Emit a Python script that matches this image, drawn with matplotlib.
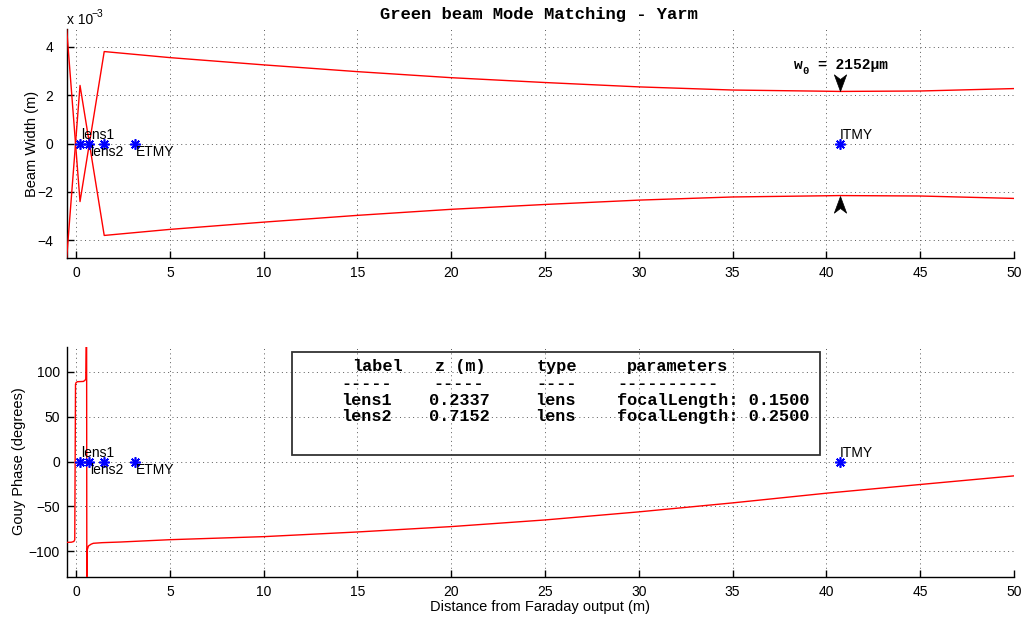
import matplotlib
matplotlib.use('Agg')
import matplotlib.pyplot as plt
from matplotlib.patches import Rectangle
from matplotlib.ticker import FuncFormatter
from matplotlib.path import Path
import numpy as np

# ---------------- data ----------------
# signed beam envelope (mm); the mirror branch is its negative
z_beam = [-0.5, 0.21, 1.5, 5, 10, 15, 20, 25, 30, 35, 40, 40.7, 45, 50]
w_beam_mm = [4.72, -2.40, 3.80, 3.55, 3.25, 2.97, 2.72, 2.52, 2.34, 2.21, 2.16, 2.152, 2.17, 2.27]

# Gouy phase (degrees)
z_gouy = [-0.5, -0.25, -0.12, -0.07, -0.05, -0.03, 0.0, 0.07, 0.39, 0.47, 0.52,
          0.56, 0.575, 0.60, 0.66, 0.80, 0.92, 1.4, 2.35,
          5, 10, 15, 20, 25, 30, 35, 40, 45, 50]
g_gouy = [-90, -89.8, -89, -87, 0, 86, 88, 89, 89.3, 90.5, 92,
          180, -180, -98, -94, -92, -91, -90.3, -89.6,
          -87, -83.6, -78.4, -72.4, -65, -56, -46, -35.2, -25.5, -15.9]

# optical components
comp_z = [0.2337, 0.7152, 1.5, 3.15, 40.7]
comp_names = ['lens1', 'lens2', '', 'ETMY', 'ITMY']
comp_above = [True, False, True, False, True]

# waist annotation
waist_z = 40.7
waist_w_um = 2152

# table
tbl_header = ['label', 'z (m)', 'type', 'parameters']
tbl_labels = ['lens1', 'lens2']
tbl_z = [0.2337, 0.7152]
tbl_type = ['lens', 'lens']
tbl_focal = [0.1500, 0.2500]

x_ticks = list(range(0, 51, 5))
y1_ticks_mm = [-4, -2, 0, 2, 4]
y2_ticks = [-100, -50, 0, 50, 100]

# ---------------- figure ----------------
W, H = 1024, 618
fig = plt.figure(figsize=(W / 100, H / 100), dpi=100)
SANS = 'Liberation Sans'
MONO = 'Liberation Mono'
plt.rcParams['font.family'] = SANS


def fx(px):
    return px / W


def fy(py):
    return 1 - py / H


ax1 = fig.add_axes([fx(66.7), fy(257.7), fx(1014) - fx(66.7), fy(29.3) - fy(257.7)])
ax2 = fig.add_axes([fx(66.7), fy(576.5), fx(1014) - fx(66.7), fy(346.7) - fy(576.5)])

w = np.array(w_beam_mm) * 1e-3
ax1.plot(z_beam, w, color='#ff0000', lw=1.0, zorder=3)
ax1.plot(z_beam, -w, color='#ff0000', lw=1.0, zorder=3)
ax2.plot(z_gouy, g_gouy, color='#ff0000', lw=1.0, zorder=3)

ax1.set_xlim(-0.5, 50)
ax1.set_ylim(-4.72e-3, 4.72e-3)
ax2.set_xlim(-0.5, 50)
ax2.set_ylim(-128, 128)

ax1.set_yticks([v * 1e-3 for v in y1_ticks_mm])
ax1.yaxis.set_major_formatter(
    FuncFormatter(lambda v, p: ('%d' % round(v * 1e3)).replace('-', '\u2212')))
ax2.set_yticks(y2_ticks)

for ax in (ax1, ax2):
    ax.set_xticks(x_ticks)
    for s in ('top', 'right'):
        ax.spines[s].set_visible(False)
    for s in ('left', 'bottom'):
        ax.spines[s].set_linewidth(1.0)
    ax.tick_params(direction='in', length=5, width=1.0, labelsize=10, pad=6)
    ax.grid(True, color='0.35', linestyle=(0, (1, 3.5)), linewidth=0.7)
    ax.set_axisbelow(True)
    for zc, name, above in zip(comp_z, comp_names, comp_above):
        ax.plot([zc], [0], linestyle='none', marker=(8, 2, 0), markersize=7.5,
                markeredgewidth=1.2, color='#0000ff', zorder=4)
        if name:
            ax.annotate(name, (zc, 0), xytext=(0.5, 6 if above else -6),
                        textcoords='offset points', ha='left',
                        va='center', fontsize=10, color='black', zorder=5)
ax1.tick_params(axis='y', pad=9.5)
ax2.tick_params(axis='y', pad=5)

ax1.set_ylabel('Beam Width (m)', fontsize=10.5, labelpad=-1)
ax2.set_ylabel('Gouy Phase (degrees)', fontsize=10.5, labelpad=2)
ax2.set_xlabel('Distance from Faraday output (m)', fontsize=10.5, labelpad=1)

# exponent label
fig.text(fx(66.7), fy(24), 'x 10', fontsize=10, ha='left', va='baseline')
fig.text(fx(92), fy(17), '\u22123', fontsize=7.5, ha='left', va='baseline')

# title
fig.text(fx(539), fy(14), 'Green beam Mode Matching - Yarm', family=MONO,
         weight='bold', fontsize=12.3, ha='center', va='center')


def d2y(py):
    # axis-1 data y (m) from pixel row
    return (4 - (py - 46.7) / 24.25) * 1e-3


def d2x(px):
    return (px - 76) / 18.74


ax1.text(d2x(793), d2y(69), 'w', family=MONO, weight='bold', fontsize=10.5,
         ha='left', va='baseline')
ax1.text(d2x(801.5), d2y(74), '0', family=MONO, weight='bold', fontsize=7.5,
         ha='left', va='baseline')
ax1.text(d2x(816.7), d2y(69), '= %d\u03bcm' % waist_w_um, family=MONO,
         weight='bold', fontsize=10.5, ha='left', va='baseline')

# notched arrowheads (tip at marker origin)
down_head = Path([(0, 0), (-0.37, 1), (0, 0.72), (0.37, 1), (0, 0)],
                 [Path.MOVETO, Path.LINETO, Path.LINETO, Path.LINETO, Path.CLOSEPOLY])
up_head = Path([(0, 0), (-0.37, -1), (0, -0.72), (0.37, -1), (0, 0)],
               [Path.MOVETO, Path.LINETO, Path.LINETO, Path.LINETO, Path.CLOSEPOLY])
w0 = waist_w_um * 1e-6
ax1.plot([waist_z], [w0], linestyle='none', marker=down_head, markersize=24,
         color='black', markeredgewidth=0.5, zorder=6)
ax1.plot([waist_z], [-w0], linestyle='none', marker=up_head, markersize=24,
         color='black', markeredgewidth=0.5, zorder=6)

# table box
fig.patches.append(Rectangle((fx(292), fy(455)), fx(820) - fx(292), fy(352) - fy(455),
                             transform=fig.transFigure, fill=False,
                             edgecolor='0.2', lw=1.3, zorder=5))
tk = dict(family=MONO, weight='bold', fontsize=12.2, ha='left', va='baseline')
hdr_x = [352, 435, 537, 627]
for t, x in zip(tbl_header, hdr_x):
    fig.text(fx(x), fy(371), t, **tk)
dash_x = [341.6, 433, 536, 617]
dash_n = [5, 5, 4, 10]
for x, n in zip(dash_x, dash_n):
    fig.text(fx(x), fy(388), '-' * n, **tk)
row_y = [405, 421]
for lab, z, typ, f, y in zip(tbl_labels, tbl_z, tbl_type, tbl_focal, row_y):
    fig.text(fx(341.6), fy(y), lab, **tk)
    fig.text(fx(429), fy(y), '%.4f' % z, **tk)
    fig.text(fx(535.5), fy(y), typ, **tk)
    fig.text(fx(617), fy(y), 'focalLength: %.4f' % f, **tk)

fig.savefig('out.png', dpi=100)
